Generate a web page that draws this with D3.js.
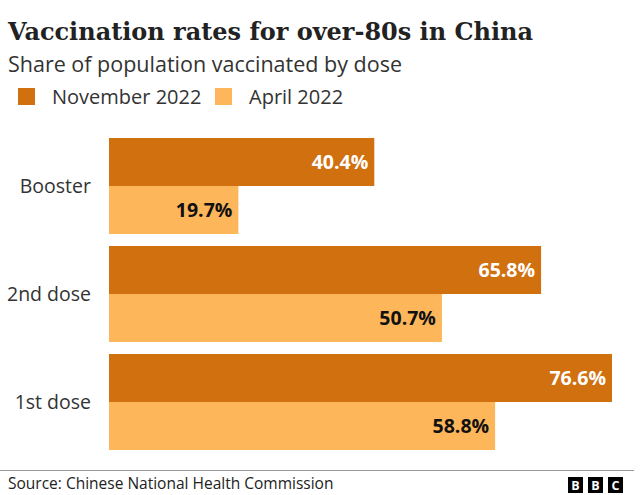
<!DOCTYPE html>
<html lang="en">
<head>
<meta charset="UTF-8">
<title>Vaccination rates</title>
<script src="https://d3js.org/d3.v7.min.js"></script>
<style>
    body { margin: 0; background: #fff; }
    svg { font-family: "Open Sans", "Noto Sans", sans-serif; }
</style>
</head>
<body>
<svg id="chart" width="640" height="495"></svg>
<script>
    const categories = ['Booster', '2nd dose', '1st dose'];
    const series = ['November 2022', 'April 2022'];
    const november = [40.4, 65.8, 76.6];
    const april = [19.7, 50.7, 58.8];
    const colors = ['#D1700F', '#FDB65A'];
    const labelColors = ['#fff', '#111'];

    const svg = d3.select('#chart');

    svg.append('text')
        .attr('x', 8).attr('y', 40)
        .attr('font-family', '"DejaVu Serif", serif')
        .attr('font-weight', 'bold')
        .attr('font-size', 25)
        .attr('fill', '#222')
        .attr('textLength', 525)
        .attr('lengthAdjust', 'spacingAndGlyphs')
        .text('Vaccination rates for over-80s in China');

    svg.append('text')
        .attr('x', 8).attr('y', 72)
        .attr('font-size', 21.5)
        .attr('fill', '#333')
        .text('Share of population vaccinated by dose');

    // legend
    const legendX = [18, 215];
    const legend = svg.append('g');
    series.forEach((s, i) => {
        legend.append('rect')
            .attr('x', legendX[i]).attr('y', 88)
            .attr('width', 17).attr('height', 17)
            .attr('fill', colors[i]);
        legend.append('text')
            .attr('x', legendX[i] + 34).attr('y', 103.5)
            .attr('font-size', 20)
            .attr('fill', '#333')
            .text(s);
    });

    const x = d3.scaleLinear().domain([0, 76.6]).range([109, 612]);
    const y = d3.scaleBand().domain(categories).range([138, 450]).paddingInner(12 / 108).paddingOuter(0);
    const sub = d3.scaleBand().domain(series).range([0, y.bandwidth()]);

    const values = [november, april];

    const groups = svg.append('g').selectAll('g')
        .data(categories)
        .join('g')
        .attr('transform', d => `translate(0,${y(d)})`);

    groups.append('text')
        .attr('x', 91)
        .attr('y', y.bandwidth() / 2)
        .attr('dy', '0.35em')
        .attr('text-anchor', 'end')
        .attr('font-size', 19.5)
        .attr('fill', '#333')
        .text(d => d);

    series.forEach((s, si) => {
        groups.append('rect')
            .attr('x', x(0))
            .attr('y', sub(s))
            .attr('width', (d, i) => x(values[si][i]) - x(0))
            .attr('height', sub.bandwidth())
            .attr('fill', colors[si]);

        groups.append('text')
            .attr('x', (d, i) => x(values[si][i]) - 6)
            .attr('y', sub(s) + sub.bandwidth() / 2)
            .attr('dy', '0.35em')
            .attr('text-anchor', 'end')
            .attr('font-size', 19.5)
            .attr('font-weight', 'bold')
            .attr('fill', labelColors[si])
            .text((d, i) => values[si][i].toFixed(1) + '%');
    });

    // footer
    svg.append('line')
        .attr('x1', 0).attr('x2', 634)
        .attr('y1', 470.5).attr('y2', 470.5)
        .attr('stroke', '#999').attr('stroke-width', 1);

    svg.append('text')
        .attr('x', 8).attr('y', 489)
        .attr('font-size', 15.5)
        .attr('fill', '#222')
        .text('Source: Chinese National Health Commission');

    const logo = svg.append('g');
    ['B', 'B', 'C'].forEach((l, i) => {
        const lx = 568 + i * 20;
        logo.append('rect')
            .attr('x', lx).attr('y', 477)
            .attr('width', 15).attr('height', 16)
            .attr('fill', '#000');
        logo.append('text')
            .attr('x', lx + 7.5).attr('y', 489.5)
            .attr('text-anchor', 'middle')
            .attr('font-size', 12.5)
            .attr('font-weight', 'bold')
            .attr('fill', '#fff')
            .text(l);
    });
</script>
</body>
</html>
